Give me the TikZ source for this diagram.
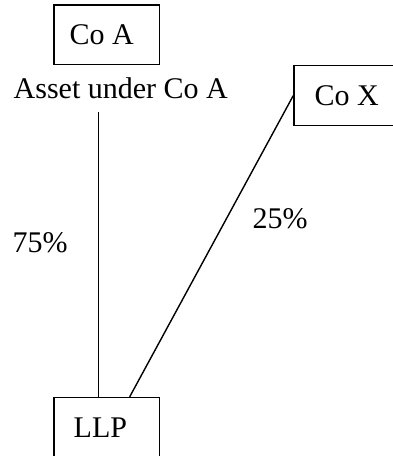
\documentclass[tikz,border=0pt]{standalone}
\usepackage{fontspec}
\setmainfont{Liberation Serif}
\begin{document}
\begin{tikzpicture}[x=1pt,y=-1pt,line width=1.4pt,
  every node/.style={font=\fontsize{30}{36}\selectfont},
  boxnode/.style={draw, anchor=north west, minimum height=59.7pt, inner ysep=0pt},
  txt/.style={anchor=base west, inner sep=0pt}]
\begin{scope}
\clip (0,0) rectangle (393,456);
\node[boxnode, inner xsep=15.7pt] (coa) at (53.3,4.3) {\makebox[74pt][l]{Co A}};
\node[boxnode, inner xsep=20.7pt] (cox) at (293.3,65) {\makebox[64pt][l]{Co X}};
\node[boxnode, inner xsep=19.7pt] (llp) at (53.3,396.8) {\makebox[66pt][l]{LLP}};
\node[txt] (asset) at (13,98) {Asset under Co A};
\node[txt] (p75) at (12,252) {75\%};
\node[txt] (p25) at (252,228) {25\%};
\coordinate (top) at (98.5,112);
\draw (top) -- (llp.north -| top);
\draw (cox.west) -- ([xshift=23pt]llp.north);
\end{scope}
\pgfresetboundingbox
\useasboundingbox (0,0) rectangle (393,456);
\end{tikzpicture}
\end{document}
